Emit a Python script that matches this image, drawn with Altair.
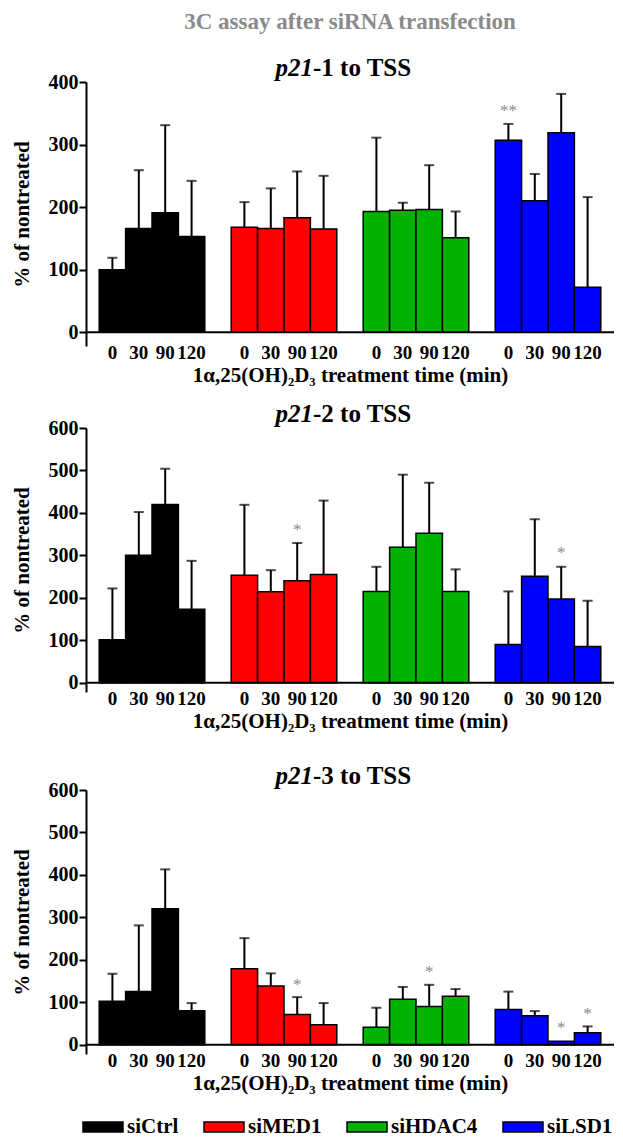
import altair as alt
import pandas as pd

FONT = "Liberation Serif"

groups = ["siCtrl", "siMED1", "siHDAC4", "siLSD1"]
colors = ["#000000", "#ff0000", "#00b300", "#0000ff"]
times = ["0", "30", "90", "120"]

# Panel 1: p21-1 to TSS (mean and SD, % of nontreated)
p1_mean = {"siCtrl": [100, 166, 191, 153], "siMED1": [168, 166, 183, 165],
           "siHDAC4": [193, 195, 196, 151], "siLSD1": [307, 210, 319, 72]}
p1_sd = {"siCtrl": [19, 93, 140, 89], "siMED1": [40, 64, 74, 85],
         "siHDAC4": [118, 12, 71, 42], "siLSD1": [26, 43, 62, 144]}
p1_stars = [("siLSD1", "0", 360, "**")]

# Panel 2: p21-2 to TSS
p2_mean = {"siCtrl": [101, 300, 420, 173], "siMED1": [253, 214, 240, 255],
           "siHDAC4": [215, 319, 352, 215], "siLSD1": [90, 251, 197, 85]}
p2_sd = {"siCtrl": [121, 102, 84, 114], "siMED1": [166, 51, 89, 174],
         "siHDAC4": [58, 171, 119, 52], "siLSD1": [125, 134, 76, 108]}
p2_stars = [("siMED1", "90", 370, "*"), ("siLSD1", "90", 316, "*")]

# Panel 3: p21-3 to TSS
p3_mean = {"siCtrl": [102, 125, 320, 80], "siMED1": [179, 138, 71, 47],
           "siHDAC4": [41, 107, 90, 114], "siLSD1": [83, 68, 8, 28]}
p3_sd = {"siCtrl": [65, 156, 93, 18], "siMED1": [72, 30, 41, 51],
         "siHDAC4": [46, 29, 51, 17], "siLSD1": [42, 11, None, 15]}
p3_stars = [("siMED1", "90", 151, "*"), ("siHDAC4", "90", 181, "*"),
            ("siLSD1", "90", 49, "*"), ("siLSD1", "120", 82, "*")]

main_title = "3C assay after siRNA transfection"

slots = []
for gi, g in enumerate(groups):
    for t in times:
        slots.append(f"{g}|{t}")
    if gi < len(groups) - 1:
        slots.append(f"gap{gi}|")

W, H = 528, 264
YMIN = -22


def make_panel(num, means, sds, stars, ymax, with_main=False):
    rows = []
    for g in groups:
        for i, t in enumerate(times):
            rows.append({"group": g, "time": t, "slot": f"{g}|{t}",
                         "mean": means[g][i], "sd": sds[g][i]})
    df = pd.DataFrame(rows)
    df["upper"] = df["mean"] + df["sd"]
    err = df.dropna(subset=["sd"])
    sdf = pd.DataFrame([{"slot": f"{g}|{t}", "pos": p, "label": l} for g, t, p, l in stars])

    x = alt.X("slot:N",
              scale=alt.Scale(domain=slots, paddingInner=0, paddingOuter=0.5),
              axis=alt.Axis(title="1\u03b1,25(OH)\u2082D\u2083 treatment time (min)",
                            labelExpr="split(datum.value, '|')[1]",
                            ticks=False, domain=False, labelAngle=0,
                            labelFontSize=19, labelPadding=-3,
                            titleFontSize=21, titlePadding=2))
    yscale = alt.Scale(domain=[YMIN, ymax], nice=False, zero=False)
    yaxis = alt.Axis(title="% of nontreated", values=list(range(0, ymax + 1, 100)),
                     grid=False, domainColor="black", domainWidth=2,
                     tickColor="black", tickWidth=2, tickSize=7,
                     labelFontSize=20, labelPadding=1,
                     titleFontSize=21, titlePadding=16)

    bars = alt.Chart(df).mark_bar(stroke="black", strokeWidth=1.5).encode(
        x=x,
        y=alt.Y("mean:Q", scale=yscale, axis=yaxis, stack=None),
        y2=alt.datum(0),
        color=alt.Color("group:N", scale=alt.Scale(domain=groups, range=colors),
                        legend=alt.Legend(
                            title=None, orient="none", legendX=-4, legendY=1024,
                            direction="horizontal", columns=4,
                            symbolType="M-1,-0.25H1V0.25H-1Z", symbolSize=1600,
                            symbolStrokeColor="black", symbolStrokeWidth=1.5,
                            symbolOpacity=1,
                            labelFont=FONT, labelFontWeight="bold", labelFontSize=21,
                            labelColor="black", labelOffset=3, columnPadding=22)),
    )
    rules = alt.Chart(err).mark_rule(color="black", strokeWidth=2).encode(
        x=x, y=alt.Y("mean:Q", scale=yscale, axis=yaxis), y2="upper:Q")
    caps = alt.Chart(err).mark_tick(color="black", thickness=2, size=10).encode(
        x=x, y=alt.Y("upper:Q", scale=yscale, axis=yaxis))
    zero = alt.Chart(pd.DataFrame({"z": [0]})).mark_rule(color="black", strokeWidth=2).encode(
        y=alt.Y("z:Q", scale=yscale, axis=yaxis))
    star = alt.Chart(sdf).mark_text(color="#8a8a8a", font=FONT, fontSize=17, dy=4).encode(
        x=x, y=alt.Y("pos:Q", scale=yscale, axis=yaxis), text="label:N")
    t1 = alt.Chart(pd.DataFrame({"t": ["p21"]})).mark_text(
        font=FONT, fontSize=25, fontWeight="bold", fontStyle="italic",
        align="right", baseline="alphabetic", color="black").encode(
        text="t:N", x=alt.value(227), y=alt.value(-6))
    t2 = alt.Chart(pd.DataFrame({"t": [f"-{num} to TSS"]})).mark_text(
        font=FONT, fontSize=25, fontWeight="bold",
        align="left", baseline="alphabetic", color="black").encode(
        text="t:N", x=alt.value(227), y=alt.value(-6))
    layers = [bars, rules, caps, zero, star, t1, t2]
    if with_main:
        mt = alt.Chart(pd.DataFrame({"t": [main_title]})).mark_text(
            font=FONT, fontSize=23, fontWeight="bold", color="#8a8a8a",
            align="center", baseline="middle").encode(
            text="t:N", x=alt.value(W / 2), y=alt.value(-60))
        layers.append(mt)
    return alt.layer(*layers).properties(width=W, height=H)


p1 = make_panel(1, p1_mean, p1_sd, p1_stars, 400, with_main=True)
p2 = make_panel(2, p2_mean, p2_sd, p2_stars, 600)
p3 = make_panel(3, p3_mean, p3_sd, p3_stars, 600)

chart = alt.vconcat(
    alt.vconcat(p1, p2, spacing=17),
    p3, spacing=33,
).properties(
    padding={"left": 3, "top": 3, "right": 0, "bottom": 0},
).configure_view(stroke=None).configure_axis(
    labelFont=FONT, titleFont=FONT, labelFontWeight="bold", titleFontWeight="bold",
    labelColor="black", titleColor="black",
)

chart.save("out.html", embed_options={"renderer": "svg", "actions": False})
